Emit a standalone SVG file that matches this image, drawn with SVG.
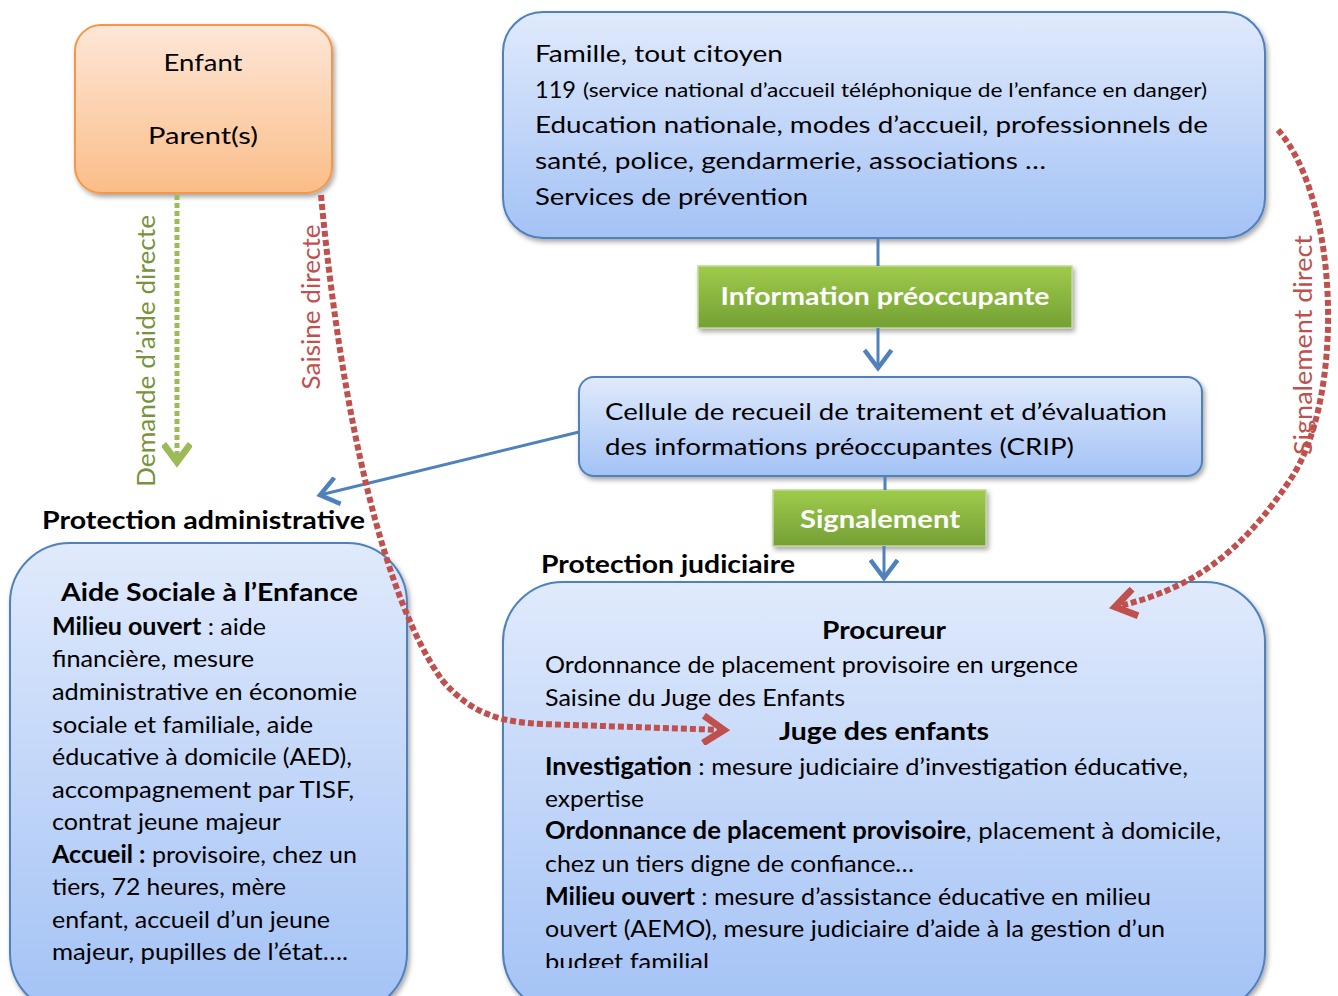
<svg xmlns="http://www.w3.org/2000/svg" width="1338" height="996" viewBox="0 0 1338 996">
<style>
text{font-family:Lato,"Open Sans","Liberation Sans",sans-serif;fill:#000}
.t{font-size:24px}
.s{font-size:19px}
.b{font-weight:bold}
.w{fill:#fff;font-weight:bold;font-size:25px}
.blue{fill:url(#gb);stroke:#4f81bd;stroke-width:2}
.gr{fill:url(#gg);stroke:#c3d69b;stroke-width:1.5}
.con{fill:none;stroke:#4f81bd;stroke-width:3}
.red{fill:none;stroke:#c0504d;stroke-width:6;stroke-dasharray:6 3}
.grn{fill:none;stroke:#9bbb59;stroke-width:5;stroke-dasharray:5 3}
</style>
<defs>
<linearGradient id="gb" x1="0" y1="0" x2="0" y2="1"><stop offset="0" stop-color="#e0eafc"/><stop offset="1" stop-color="#a3c2f5"/></linearGradient>
<linearGradient id="go" x1="0" y1="0" x2="0" y2="1"><stop offset="0" stop-color="#fde7d8"/><stop offset="1" stop-color="#fbbd88"/></linearGradient>
<linearGradient id="gg" x1="0" y1="0" x2="0" y2="1"><stop offset="0" stop-color="#9fcb4c"/><stop offset="1" stop-color="#74a034"/></linearGradient>
<filter id="sh" x="-10%" y="-10%" width="120%" height="130%"><feDropShadow dx="2" dy="3" stdDeviation="2.5" flood-color="#000" flood-opacity="0.35"/></filter>
<marker id="ab" markerUnits="userSpaceOnUse" markerWidth="30" markerHeight="30" refX="14" refY="10" orient="auto" viewBox="0 0 16 20"><path d="M2,1 L14,10 L2,19" fill="none" stroke="#4f81bd" stroke-width="3"/></marker>
<marker id="ag" markerUnits="userSpaceOnUse" markerWidth="30" markerHeight="30" refX="14" refY="10" orient="auto" viewBox="0 0 16 20"><path d="M2,1 L14,10 L2,19" fill="none" stroke="#9bbb59" stroke-width="4.5"/></marker>
<marker id="ar" markerUnits="userSpaceOnUse" markerWidth="32" markerHeight="32" refX="21" refY="14" orient="auto" viewBox="0 0 26 28"><path d="M3,2 L21,14 L3,26" fill="none" stroke="#c0504d" stroke-width="6"/></marker>
<clipPath id="cr"><rect x="500" y="580" width="800" height="388"/></clipPath>
</defs>
<rect width="1338" height="996" fill="#fff"/>

<g id="enfant">
<rect x="75" y="25" width="257" height="168" rx="26" fill="url(#go)" stroke="#f79646" stroke-width="2" filter="url(#sh)"/>
<text class="t" x="203" y="71" text-anchor="middle" textLength="79" lengthAdjust="spacingAndGlyphs">Enfant</text>
<text class="t" x="203" y="144" text-anchor="middle" textLength="110" lengthAdjust="spacingAndGlyphs">Parent(s)</text>
</g>

<g id="signaleurs">
<rect class="blue" x="503" y="12" width="762" height="226" rx="40" filter="url(#sh)"/>
<text class="t" x="535" y="62" textLength="248" lengthAdjust="spacingAndGlyphs">Famille, tout citoyen</text>
<text class="t" x="535" y="98" textLength="41" lengthAdjust="spacingAndGlyphs">119</text>
<text class="s" x="583" y="97" textLength="624" lengthAdjust="spacingAndGlyphs">(service national d’accueil téléphonique de l’enfance en danger)</text>
<text class="t" x="535" y="133" textLength="673" lengthAdjust="spacingAndGlyphs">Education nationale, modes d’accueil, professionnels de</text>
<text class="t" x="535" y="169" textLength="511" lengthAdjust="spacingAndGlyphs">santé, police, gendarmerie, associations …</text>
<text class="t" x="535" y="205" textLength="273" lengthAdjust="spacingAndGlyphs">Services de prévention</text>
</g>

<g id="info">
<rect class="gr" x="698" y="266" width="374" height="62" filter="url(#sh)"/>
<text class="w" x="885" y="305" text-anchor="middle" textLength="329" lengthAdjust="spacingAndGlyphs">Information préoccupante</text>
</g>

<g id="crip">
<rect class="blue" x="579" y="377" width="623" height="99" rx="15" filter="url(#sh)"/>
<text class="t" x="605" y="420" textLength="562" lengthAdjust="spacingAndGlyphs">Cellule de recueil de traitement et d’évaluation</text>
<text class="t" x="605" y="455" textLength="469" lengthAdjust="spacingAndGlyphs">des informations préoccupantes (CRIP)</text>
</g>

<g id="signalement">
<rect class="gr" x="773" y="490" width="213" height="56" filter="url(#sh)"/>
<text class="w" x="880" y="528" text-anchor="middle" textLength="160" lengthAdjust="spacingAndGlyphs">Signalement</text>
</g>

<g id="labels">
<text class="t b" x="42" y="529" textLength="323" lengthAdjust="spacingAndGlyphs">Protection administrative</text>
<text class="t b" x="541" y="573" textLength="254" lengthAdjust="spacingAndGlyphs">Protection judiciaire</text>
</g>

<g id="ase">
<rect class="blue" x="10" y="543" width="397" height="470" rx="60" filter="url(#sh)"/>
<text class="t b" x="61" y="601" textLength="297" lengthAdjust="spacingAndGlyphs">Aide Sociale à l’Enfance</text>
<text class="t" x="52" y="635" textLength="214" lengthAdjust="spacingAndGlyphs"><tspan class="b">Milieu ouvert</tspan> : aide</text>
<text class="t" x="52" y="667" textLength="202" lengthAdjust="spacingAndGlyphs">financière, mesure</text>
<text class="t" x="52" y="700" textLength="305" lengthAdjust="spacingAndGlyphs">administrative en économie</text>
<text class="t" x="52" y="733" textLength="261" lengthAdjust="spacingAndGlyphs">sociale et familiale, aide</text>
<text class="t" x="52" y="765" textLength="300" lengthAdjust="spacingAndGlyphs">éducative à domicile (AED),</text>
<text class="t" x="52" y="798" textLength="302" lengthAdjust="spacingAndGlyphs">accompagnement par TISF,</text>
<text class="t" x="52" y="830" textLength="229" lengthAdjust="spacingAndGlyphs">contrat jeune majeur</text>
<text class="t" x="52" y="863" textLength="305" lengthAdjust="spacingAndGlyphs"><tspan class="b">Accueil :</tspan> provisoire, chez un</text>
<text class="t" x="52" y="895" textLength="234" lengthAdjust="spacingAndGlyphs">tiers, 72 heures, mère</text>
<text class="t" x="52" y="928" textLength="278" lengthAdjust="spacingAndGlyphs">enfant, accueil d’un jeune</text>
<text class="t" x="52" y="960" textLength="296" lengthAdjust="spacingAndGlyphs">majeur, pupilles de l’état….</text>
</g>

<g id="judiciaire">
<rect class="blue" x="503" y="582" width="762" height="430" rx="60" filter="url(#sh)"/>
<text class="t b" x="884" y="639" text-anchor="middle" textLength="124" lengthAdjust="spacingAndGlyphs">Procureur</text>
<text class="t" x="545" y="673" textLength="533" lengthAdjust="spacingAndGlyphs">Ordonnance de placement provisoire en urgence</text>
<text class="t" x="545" y="706" textLength="300" lengthAdjust="spacingAndGlyphs">Saisine du Juge des Enfants</text>
<text class="t b" x="884" y="740" text-anchor="middle" textLength="210" lengthAdjust="spacingAndGlyphs">Juge des enfants</text>
<text class="t" x="545" y="775" textLength="643" lengthAdjust="spacingAndGlyphs"><tspan class="b">Investigation</tspan> : mesure judiciaire d’investigation éducative,</text>
<text class="t" x="545" y="807" textLength="99" lengthAdjust="spacingAndGlyphs">expertise</text>
<text class="t" x="545" y="839" textLength="676" lengthAdjust="spacingAndGlyphs"><tspan class="b">Ordonnance de placement provisoire</tspan>, placement à domicile,</text>
<text class="t" x="545" y="872" textLength="369" lengthAdjust="spacingAndGlyphs">chez un tiers digne de confiance…</text>
<text class="t" x="545" y="905" textLength="606" lengthAdjust="spacingAndGlyphs"><tspan class="b">Milieu ouvert</tspan> : mesure d’assistance éducative en milieu</text>
<text class="t" x="545" y="937" textLength="620" lengthAdjust="spacingAndGlyphs">ouvert (AEMO), mesure judiciaire d’aide à la gestion d’un</text>
<text class="t" x="545" y="970" textLength="164" lengthAdjust="spacingAndGlyphs" clip-path="url(#cr)">budget familial</text>
</g>

<g id="connectors">
<path class="con" d="M878,238 L878,266"/>
<path class="con" d="M878,328 L878,368" marker-end="url(#ab)"/>
<path class="con" d="M885,476 L885,490"/>
<path class="con" d="M884,546 L884,578" marker-end="url(#ab)"/>
<path class="con" d="M579,432 L320,495" marker-end="url(#ab)"/>
<path class="grn" d="M177,195 L177,462" marker-end="url(#ag)"/>
<path class="red" d="M321,195 C342,420 385,600 442,680 C472,715 502,722 542,724 L724,730" marker-end="url(#ar)"/>
<path class="red" d="M1278,130 C1340,200 1345,400 1290,480 C1240,555 1190,590 1115,607" marker-end="url(#ar)"/>
</g>

<g id="edge-labels">
<text font-size="25" style="fill:#77933c" transform="translate(155,351) rotate(-90)" text-anchor="middle" textLength="272" lengthAdjust="spacingAndGlyphs">Demande d’aide directe</text>
<text font-size="25" style="fill:#c0504d" transform="translate(320,307) rotate(-90)" text-anchor="middle" textLength="165" lengthAdjust="spacingAndGlyphs">Saisine directe</text>
<text font-size="25" style="fill:#c0504d" transform="translate(1312,345) rotate(-90)" text-anchor="middle" textLength="220" lengthAdjust="spacingAndGlyphs">Signalement direct</text>
</g>
</svg>
